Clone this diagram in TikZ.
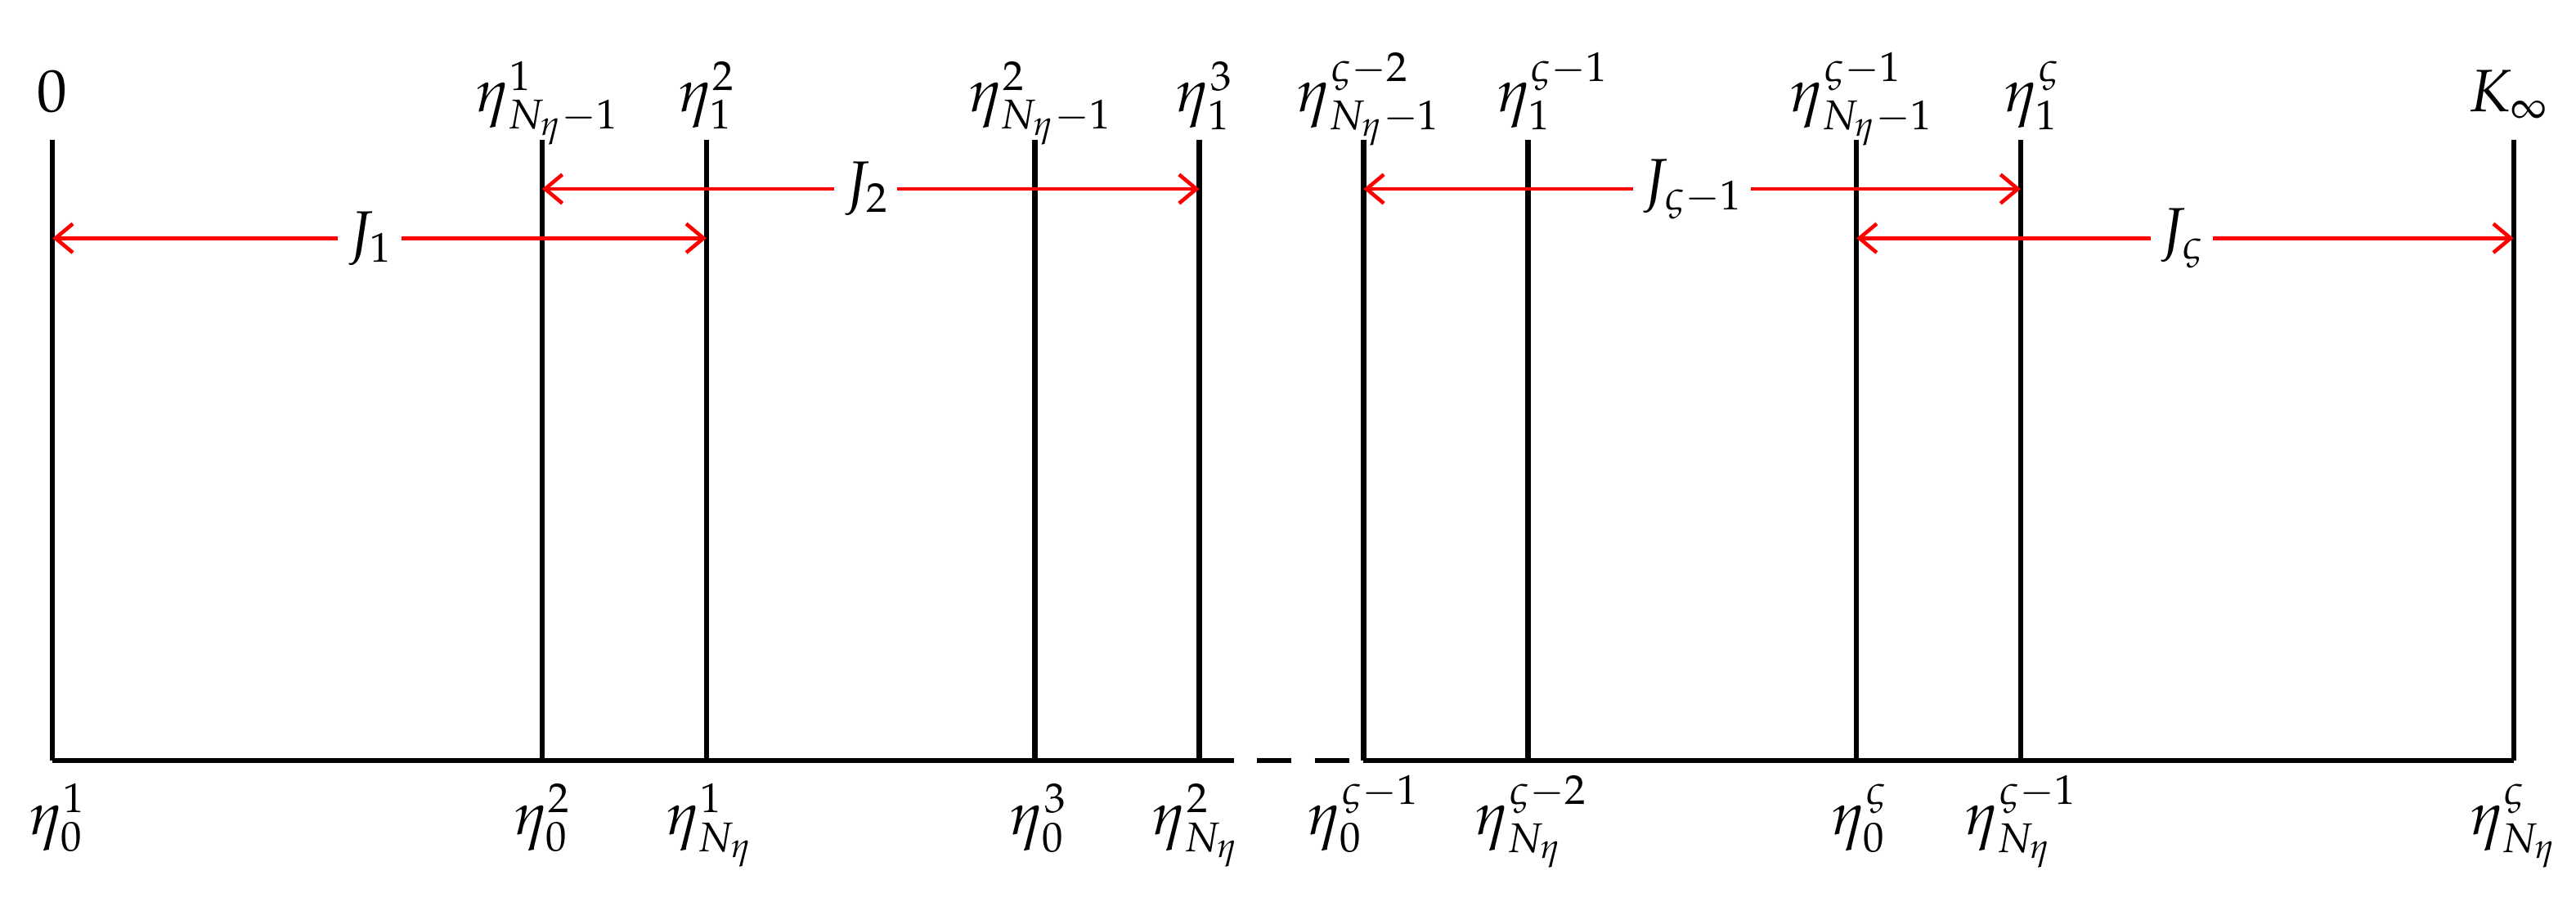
\documentclass[tikz,border=0pt]{standalone}
\usepackage{mathpazo}
\usetikzlibrary{arrows.meta}
\begin{document}
\begin{tikzpicture}[x=0.02cm,y=-0.02cm,
  vline/.style={line width=1.8pt,black},
  jarrow/.style={red,line width=1.3pt,{Straight Barb[length=6pt,width=10pt]}-{Straight Barb[length=6pt,width=10pt]}},
  jlab/.style={fill=white,inner sep=3pt,font=\huge},
  lab/.style={font=\huge,inner sep=1pt}]
\useasboundingbox (0,0) rectangle (1568,560);
\foreach \n/\x in {a/32,b/330,c/430,d/630,e/730,f/830,g/930,h/1130,i/1230,j/1530}{
  \coordinate (t\n) at (\x,85);
  \coordinate (b\n) at (\x,463);
  \draw[vline] (t\n) -- (b\n);
}
\draw[vline] (ba) -- (be);
\draw[vline,dashed,dash pattern=on 12pt off 8pt] (be) -- (bf);
\draw[vline] (bf) -- (bj);
% top labels
\node[lab,anchor=base] (la) at (32,68) {$0$};
\node[lab,anchor=base] (lb) at (333,68) {$\eta^1_{N_\eta-1}$};
\node[lab,anchor=base] (lc) at (430,68) {$\eta^2_1$};
\node[lab,anchor=base] (ld) at (633,68) {$\eta^2_{N_\eta-1}$};
\node[lab,anchor=base] (le) at (733,68) {$\eta^3_1$};
\node[lab,anchor=base] (lf) at (833,68) {$\eta^{\varsigma-2}_{N_\eta-1}$};
\node[lab,anchor=base] (lg) at (945,68) {$\eta^{\varsigma-1}_1$};
\node[lab,anchor=base] (lh) at (1133,68) {$\eta^{\varsigma-1}_{N_\eta-1}$};
\node[lab,anchor=base] (li) at (1237,68) {$\eta^{\varsigma}_1$};
\node[lab,anchor=base] (lj) at (1527,68) {$K_\infty$};
% bottom labels
\node[lab,anchor=base] (ma) at (35,508) {$\eta^1_0$};
\node[lab,anchor=base] (mb) at (330,508) {$\eta^2_0$};
\node[lab,anchor=base] (mc) at (432,508) {$\eta^1_{N_\eta}$};
\node[lab,anchor=base] (md) at (632,508) {$\eta^3_0$};
\node[lab,anchor=base] (me) at (728,508) {$\eta^2_{N_\eta}$};
\node[lab,anchor=base] (mf) at (830,508) {$\eta^{\varsigma-1}_0$};
\node[lab,anchor=base] (mg) at (932,508) {$\eta^{\varsigma-2}_{N_\eta}$};
\node[lab,anchor=base] (mh) at (1132,508) {$\eta^{\varsigma}_0$};
\node[lab,anchor=base] (mi) at (1230,508) {$\eta^{\varsigma-1}_{N_\eta}$};
\node[lab,anchor=base] (mj) at (1530,508) {$\eta^{\varsigma}_{N_\eta}$};
% arrows
\coordinate (a1) at (32,145); \coordinate (a2) at (430,145);
\coordinate (b1) at (330,115); \coordinate (b2) at (730,115);
\coordinate (c1) at (830,115); \coordinate (c2) at (1230,115);
\coordinate (d1) at (1130,145); \coordinate (d2) at (1530,145);
\draw[jarrow] (a1) -- (a2);
\draw[jarrow] (b1) -- (b2);
\draw[jarrow] (c1) -- (c2);
\draw[jarrow] (d1) -- (d2);
\node[jlab] (j1) at (225,145) {$J_1$};
\node[jlab] (j2) at (527,115) {$J_2$};
\node[jlab] (j3) at (1030,115) {$J_{\varsigma-1}$};
\node[jlab] (j4) at (1328,145) {$J_{\varsigma}$};
\end{tikzpicture}
\end{document}
